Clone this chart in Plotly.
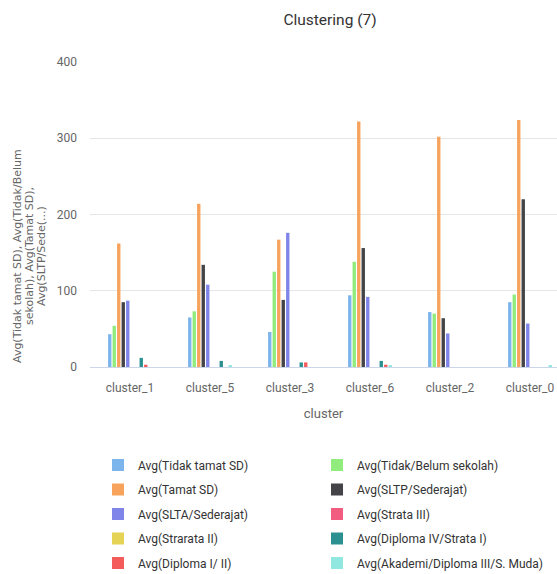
import plotly.graph_objects as go

clusters = ["cluster_1", "cluster_5", "cluster_3", "cluster_6", "cluster_2", "cluster_0"]

series_names = [
    "Avg(Tidak tamat SD)",
    "Avg(Tidak/Belum sekolah)",
    "Avg(Tamat SD)",
    "Avg(SLTP/Sederajat)",
    "Avg(SLTA/Sederajat)",
    "Avg(Strata III)",
    "Avg(Strarata II)",
    "Avg(Diploma IV/Strata I)",
    "Avg(Diploma I/ II)",
    "Avg(Akademi/Diploma III/S. Muda)",
]

tidak_tamat_sd = [43, 65, 46, 94, 72, 85]
tidak_belum_sekolah = [54, 73, 125, 138, 70, 95]
tamat_sd = [162, 214, 167, 322, 302, 324]
sltp = [85, 134, 88, 156, 64, 220]
slta = [87, 108, 176, 92, 44, 57]
strata_iii = [0, 0, 0, 0, 0, 0]
strarata_ii = [0, 0, 0, 0, 0, 0]
diploma_iv = [12, 8, 6, 8, 0, 0]
diploma_i_ii = [3, 0, 6, 3, 0, 0]
akademi = [0, 2.5, 0, 2.5, 0, 2]

y_title_lines = ["Avg(Tidak tamat SD), Avg(Tidak/Belum",
                 "sekolah), Avg(Tamat SD),",
                 "Avg(SLTP/Sede(...)"]

values = [tidak_tamat_sd, tidak_belum_sekolah, tamat_sd, sltp, slta,
          strata_iii, strarata_ii, diploma_iv, diploma_i_ii, akademi]

colors = ["#7cb5ec", "#90ed7d", "#f7a35c", "#434348", "#8085e9",
          "#f15c80", "#e4d354", "#2b908f", "#f45b5b", "#91e8e1"]

FONT = "Roboto, sans-serif"

W, H = 557, 574
ML, MR, MT, MB = 90, 0, 62, 207
PW, PH = W - ML - MR, H - MT - MB

fig = go.Figure()
legend_layout = {}
for i, (name, vals, col) in enumerate(zip(series_names, values, colors)):
    lname = "legend" if i == 0 else f"legend{i+1}"
    fig.add_trace(go.Bar(
        name=name, x=clusters, y=vals,
        marker=dict(color=col, line=dict(width=0)),
        legend=lname,
    ))
    row, colm = divmod(i, 2)
    text_x = 138 if colm == 0 else 357
    row_y = 465 + row * 24.5
    legend_layout[lname] = dict(
        x=(text_x - 40 - ML) / PW, xanchor="left",
        y=(MT + PH - row_y) / PH, yanchor="middle",
        font=dict(family=FONT, size=12, color="#333333"),
        bgcolor="rgba(0,0,0,0)", borderwidth=0,
    )

annotations = []
for j, line in enumerate(y_title_lines):
    annotations.append(dict(
        text=line, textangle=-90, xref="paper", yref="paper",
        x=(17 + 12 * j - ML) / PW, xanchor="center",
        y=(MT + PH - 256) / PH, yanchor="middle",
        showarrow=False,
        font=dict(family="DejaVu Sans", size=11, color="#666666"),
    ))

fig.update_layout(
    width=W, height=H,
    margin=dict(l=ML, r=MR, t=MT, b=MB, autoexpand=False),
    paper_bgcolor="white", plot_bgcolor="white",
    barmode="group", bargap=0.4375, bargroupgap=0.25,
    showlegend=True,
    title=dict(text="Clustering (7)", x=330 / W, xanchor="center",
               y=1 - 20 / H, yanchor="middle",
               font=dict(family=FONT, size=15.5, color="#333333")),
    xaxis=dict(
        type="category", range=[-0.5, -0.5 + PW / 80.0],
        showgrid=False, showline=True, linecolor="#ccd6eb", linewidth=1,
        ticks="", tickfont=dict(family=FONT, size=12, color="#666666"),
        ticklabelstandoff=10,
        title=dict(text="cluster", standoff=14,
                   font=dict(family=FONT, size=13, color="#666666")),
    ),
    yaxis=dict(
        range=[0, 400], tickvals=[0, 100, 200, 300, 400],
        showgrid=True, gridcolor="#e6e6e6", gridwidth=1,
        zeroline=False, showline=False, ticks="",
        tickfont=dict(family=FONT, size=12, color="#666666"),
        ticklabelstandoff=12,
    ),
    annotations=annotations,
    **legend_layout,
)

fig.write_html("out.html",
               config={"displayModeBar": False},
               post_script="document.body.style.margin='0';document.body.style.overflow='hidden';")
